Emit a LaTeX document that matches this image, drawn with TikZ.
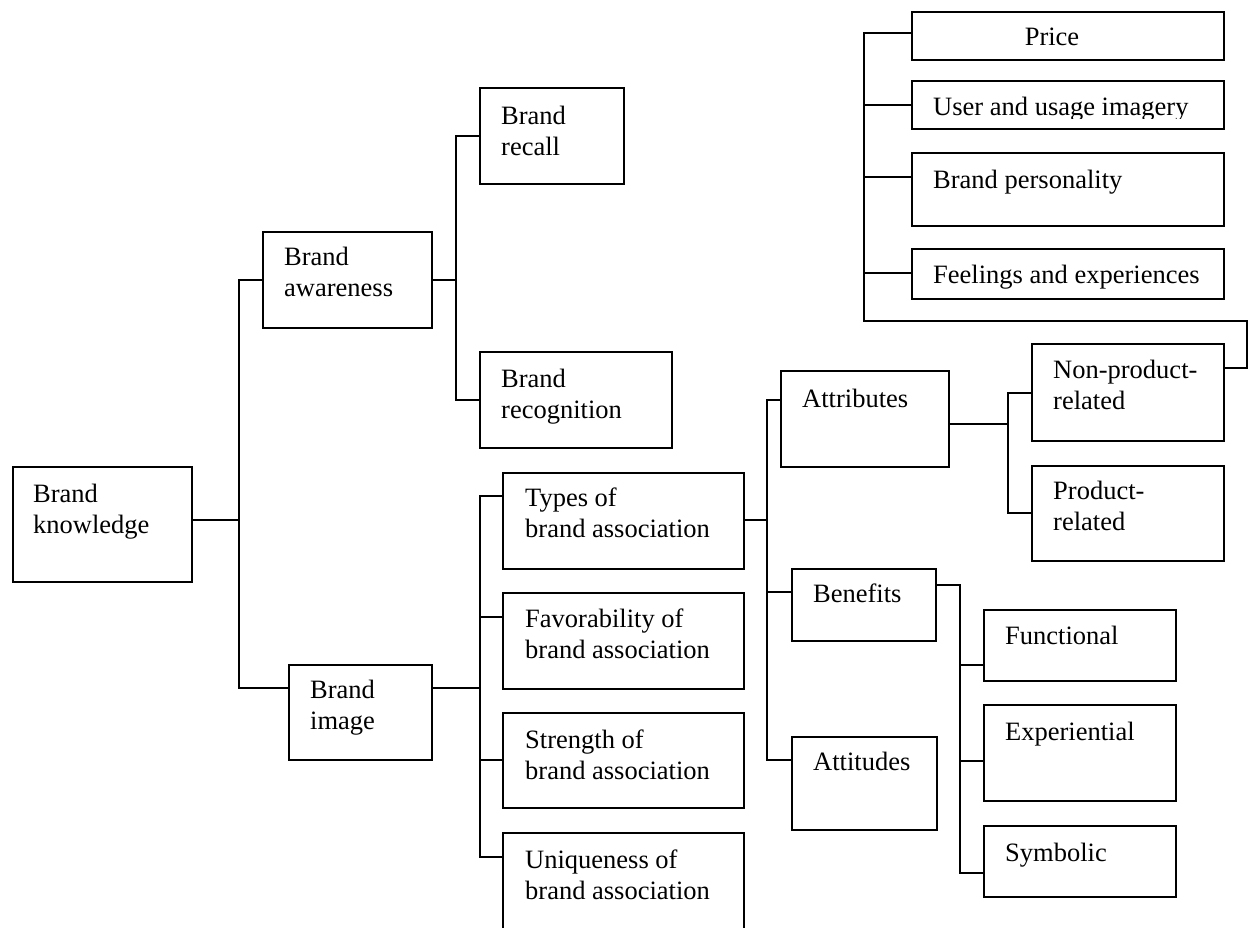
\documentclass[tikz,border=0pt]{standalone}
\usepackage{fontspec}
\setmainfont{Liberation Serif}
\usetikzlibrary{fit}
% left-aligned stacked lines whose baseline is the first line
\newcommand\stackedlines[1]{\begin{tabular}[t]{@{}l@{}}#1\end{tabular}}
\begin{document}
\begin{tikzpicture}[x=1pt,y=-1pt,
  box/.style={draw, line width=1.5pt, inner sep=0pt, rectangle},
  lbl/.style={anchor=base west, inner sep=0pt, font=\fontsize{26.5}{31}\selectfont},
  link/.style={line width=1.5pt, line cap=rect}]
\useasboundingbox (0,0) rectangle (1250,927);

% ---------- boxes ----------
\node[box, fit={(13,467) (192,582)}]   (know)    {};
\node[box, fit={(263,232) (432,328)}]  (aware)   {};
\node[box, fit={(289,665) (432,760)}]  (image)   {};
\node[box, fit={(480,88) (624,184)}]   (recall)  {};
\node[box, fit={(480,352) (672,448)}]  (recog)   {};
\node[box, fit={(503,473) (744,569)}]  (types)   {};
\node[box, fit={(503,593) (744,689)}]  (favor)   {};
\node[box, fit={(503,713) (744,808)}]  (strength){};
\node[box, fit={(503,833) (744,960)}]  (unique)  {};
\node[box, fit={(781,371) (949,467)}]  (attr)    {};
\node[box, fit={(792,569) (936,641)}]  (benef)   {};
\node[box, fit={(792,737) (937,830)}]  (attit)   {};
\node[box, fit={(1032,344) (1224,441)}] (nonprod) {};
\node[box, fit={(1032,466) (1224,561)}] (prod)    {};
\node[box, fit={(984,610) (1176,681)}]  (func)    {};
\node[box, fit={(984,705) (1176,801)}]  (exper)   {};
\node[box, fit={(984,826) (1176,897)}]  (symb)    {};
\node[box, fit={(912,12) (1224,60)}]    (price)   {};
\node[box, fit={(912,81) (1224,129)}]   (user)    {};
\node[box, fit={(912,153) (1224,226)}]  (pers)    {};
\node[box, fit={(912,249) (1224,299)}]  (feel)    {};

% ---------- labels ----------
\node[lbl] (knowt)   at (33,502)  {\stackedlines{Brand\\knowledge}};
\node[lbl] (awaret)  at (284,265) {\stackedlines{Brand\\awareness}};
\node[lbl] (imaget)  at (310,698) {\stackedlines{Brand\\image}};
\node[lbl] (recallt) at (501,124) {\stackedlines{Brand\\recall}};
\node[lbl] (recogt)  at (501,387) {\stackedlines{Brand\\recognition}};
\node[lbl] (typest)  at (525,506) {\stackedlines{Types of\\brand association}};
\node[lbl] (favort)  at (525,627) {\stackedlines{Favorability of\\brand association}};
\node[lbl] (strengtht) at (525,748) {\stackedlines{Strength of\\brand association}};
\node[lbl] (uniquet) at (525,868) {\stackedlines{Uniqueness of\\brand association}};
\node[lbl] (attrt)   at (802,407) {Attributes};
\node[lbl] (beneft)  at (813,602) {Benefits};
\node[lbl] (attitt)  at (813,770) {Attitudes};
\node[lbl] (nonprodt) at (1053,378) {\stackedlines{Non-product-\\related}};
\node[lbl] (prodt)   at (1053,499) {\stackedlines{Product-\\related}};
\node[lbl] (funct)   at (1005,644) {Functional};
\node[lbl] (expert)  at (1005,740) {Experiential};
\node[lbl] (symbt)   at (1005,861) {Symbolic};
\node[lbl, anchor=base] (pricet) at (1052,45) {Price};
\begin{scope}
  \clip (912,60) rectangle (1224,118);
  \node[lbl] (usert) at (933,115) {User and usage imagery};
\end{scope}
\node[lbl] (perst)   at (933,188) {Brand personality};
\node[lbl] (feelt)   at (933,283) {Feelings and experiences};

% ---------- junction points ----------
\coordinate (k0) at (239,520);  \coordinate (k1) at (239,280);  \coordinate (k2) at (239,688);
\coordinate (a0) at (456,280);  \coordinate (a1) at (456,136);  \coordinate (a2) at (456,400);
\coordinate (i0) at (480,688);  \coordinate (i1) at (480,496);  \coordinate (i2) at (480,617);
\coordinate (i3) at (480,760);  \coordinate (i4) at (480,857);
\coordinate (t0) at (767,520);  \coordinate (t1) at (767,400);  \coordinate (t2) at (767,592);
\coordinate (t3) at (767,760);
\coordinate (r0) at (1008,424); \coordinate (r1) at (1008,393); \coordinate (r2) at (1008,513);
\coordinate (b0) at (960,585);  \coordinate (b1) at (960,665);  \coordinate (b2) at (960,761);
\coordinate (b3) at (960,873);
\coordinate (n0) at (1247,368); \coordinate (n1) at (1247,321); \coordinate (n2) at (864,321);
\coordinate (p1) at (864,33);   \coordinate (p2) at (864,105);  \coordinate (p3) at (864,177);
\coordinate (p4) at (864,273);

% ---------- connectors ----------
% brand knowledge
\draw[link] (know.east |- k0) -- (k0);
\draw[link] (k1) -- (k2);
\draw[link] (k1) -- (aware.west |- k1);
\draw[link] (k2) -- (image.west |- k2);
% brand awareness
\draw[link] (aware.east |- a0) -- (a0);
\draw[link] (a1) -- (a2);
\draw[link] (a1) -- (recall.west |- a1);
\draw[link] (a2) -- (recog.west |- a2);
% brand image
\draw[link] (image.east |- i0) -- (i0);
\draw[link] (i1) -- (i4);
\draw[link] (i1) -- (types.west |- i1);
\draw[link] (i2) -- (favor.west |- i2);
\draw[link] (i3) -- (strength.west |- i3);
\draw[link] (i4) -- (unique.west |- i4);
% types of brand association
\draw[link] (types.east |- t0) -- (t0);
\draw[link] (t1) -- (t3);
\draw[link] (t1) -- (attr.west |- t1);
\draw[link] (t2) -- (benef.west |- t2);
\draw[link] (t3) -- (attit.west |- t3);
% attributes
\draw[link] (attr.east |- r0) -- (r0);
\draw[link] (r1) -- (r2);
\draw[link] (r1) -- (nonprod.west |- r1);
\draw[link] (r2) -- (prod.west |- r2);
% benefits
\draw[link] (benef.east |- b0) -- (b0) -- (b3);
\draw[link] (b1) -- (func.west |- b1);
\draw[link] (b2) -- (exper.west |- b2);
\draw[link] (b3) -- (symb.west |- b3);
% non-product-related
\draw[link] (nonprod.east |- n0) -- (n0) -- (n1) -- (n2) -- (p1);
\draw[link] (p1) -- (price.west |- p1);
\draw[link] (p2) -- (user.west |- p2);
\draw[link] (p3) -- (pers.west |- p3);
\draw[link] (p4) -- (feel.west |- p4);
\end{tikzpicture}
\end{document}
